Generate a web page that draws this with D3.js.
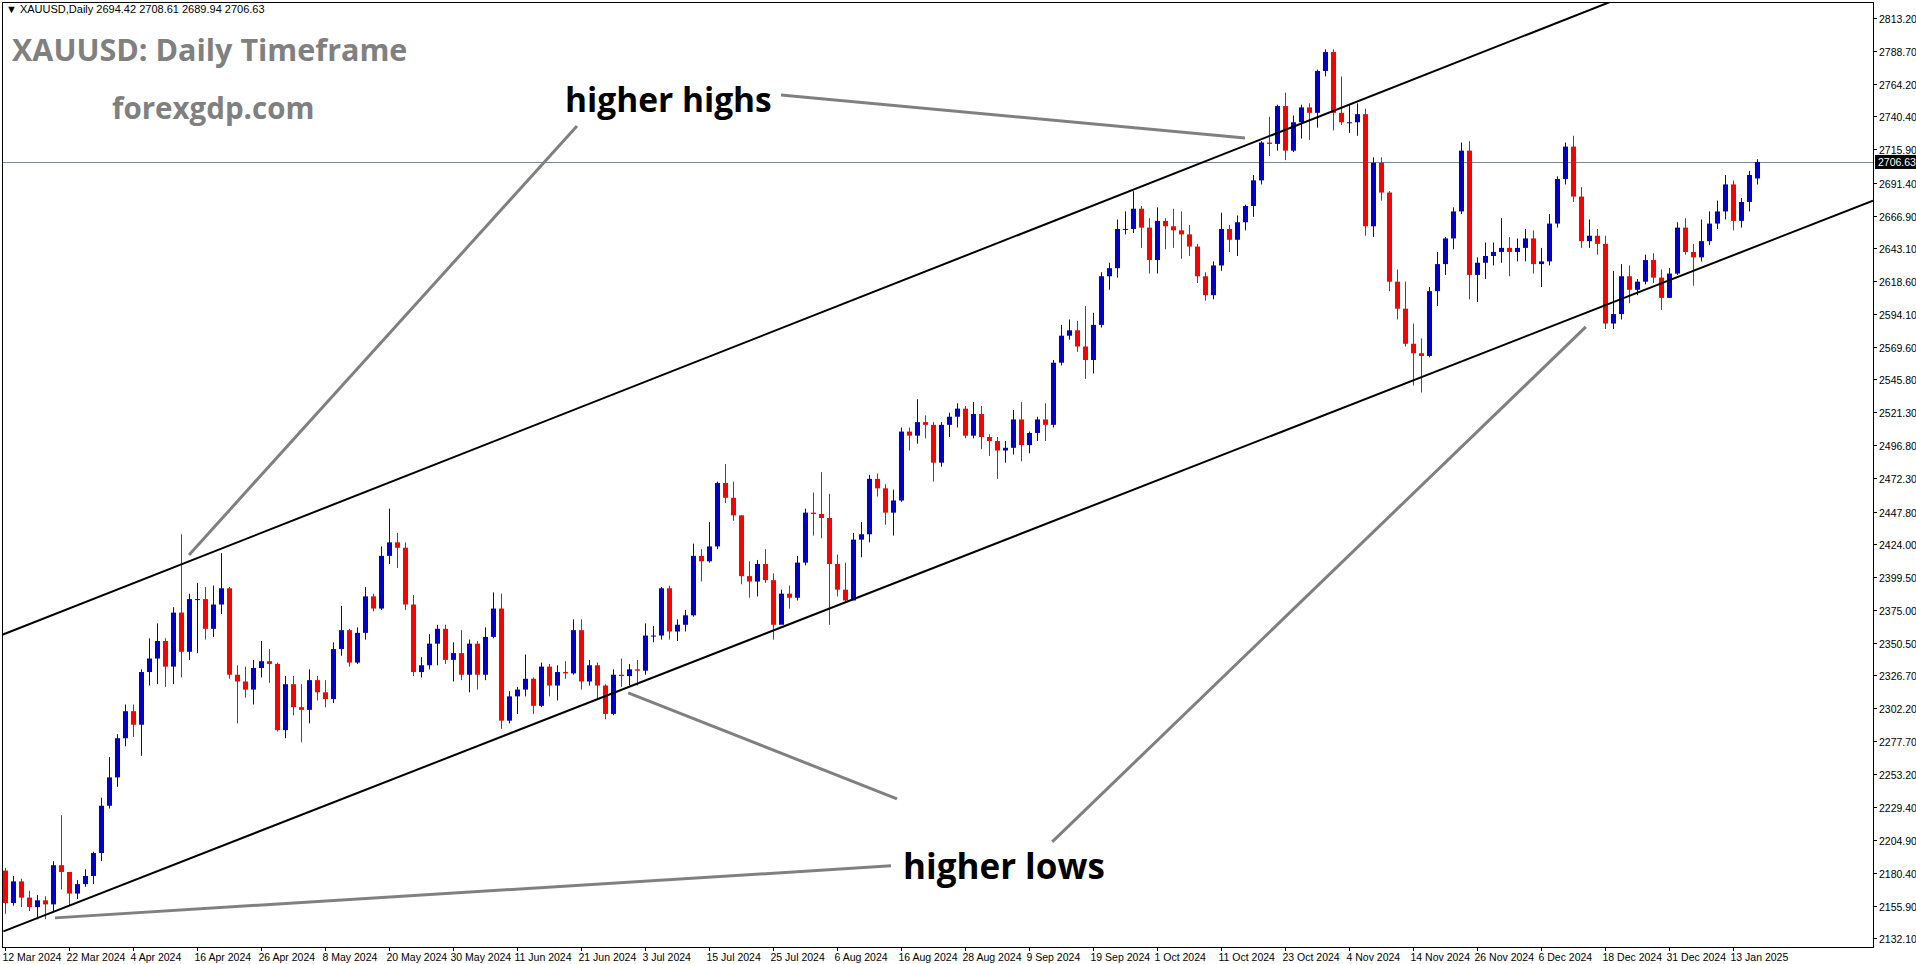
<!DOCTYPE html>
<html>
<head>
<meta charset="utf-8">
<script src="https://cdn.jsdelivr.net/npm/d3@7"></script>
<style>
  body { margin: 0; background: #fff; }
  svg { display: block; font-family: "Liberation Sans", Arial, sans-serif; }
</style>
</head>
<body>
<svg id="chart" width="1916" height="964"></svg>
<script>
// daily XAUUSD bars, 12 Mar 2024 .. 16 Jan 2025 (open = previous close)
const firstOpen = 2182;
const closes = [
  2158, 2174, 2162, 2155, 2160, 2157, 2186, 2181, 2165, 2172, 2178, 2195, 2230,
  2251, 2280, 2300, 2290, 2329, 2339, 2352, 2333, 2373, 2344, 2383, 2383, 2361, 2379, 2391, 2327, 2322, 2316, 2332, 2337, 2335, 2286,
  2320, 2303, 2301, 2323, 2314, 2309, 2346, 2360, 2336, 2358, 2385, 2376, 2415, 2425, 2421, 2379, 2329, 2334, 2350, 2361, 2338, 2343, 2327,
  2350, 2327, 2355, 2376, 2293, 2311, 2316, 2324, 2304, 2333, 2319, 2329, 2328, 2360, 2322, 2334, 2319, 2298, 2327, 2326,
  2331, 2330, 2356, 2356, 2391, 2359, 2364, 2371, 2415, 2411, 2422, 2469, 2458, 2445, 2400, 2396, 2409, 2397, 2364, 2387, 2384, 2410, 2447,
  2446, 2443, 2409, 2390, 2382, 2427, 2431, 2472, 2465, 2447, 2456, 2507, 2504, 2514, 2512, 2484, 2512, 2518, 2524, 2504, 2520, 2503,
  2500, 2493, 2495, 2516, 2497, 2506, 2516, 2512, 2558, 2578, 2582, 2570, 2560, 2586, 2622, 2628, 2657, 2657, 2672, 2658, 2634,
  2663, 2659, 2656, 2653, 2644, 2622, 2608, 2630, 2657, 2649, 2662, 2674, 2693, 2721, 2720, 2748, 2715, 2736, 2747, 2743, 2774, 2788, 2743,
  2736, 2736, 2742, 2659, 2706, 2684, 2618, 2598, 2572, 2565, 2563, 2611, 2631, 2650, 2670, 2715, 2623, 2632, 2637, 2640, 2643,
  2640, 2643, 2650, 2631, 2633, 2661, 2694, 2718, 2681, 2648, 2652, 2646, 2587, 2594, 2622, 2612, 2618, 2634, 2621, 2606, 2624,
  2658, 2640, 2636, 2648, 2661, 2670, 2690, 2663, 2677, 2697, 2706.63
];
const highs = [
  2184, 2178, 2176, 2167, 2164, 2163, 2189, 2223, 2181, 2175, 2183, 2196, 2236,
  2266, 2283, 2305, 2305, 2331, 2354, 2365, 2354, 2377, 2431, 2387, 2395, 2392, 2393, 2417, 2392, 2334, 2333, 2338, 2352, 2346, 2336,
  2326, 2326, 2320, 2331, 2326, 2323, 2351, 2378, 2361, 2362, 2392, 2387, 2422, 2450, 2432, 2425, 2386, 2340, 2357, 2364, 2364, 2351, 2360,
  2353, 2352, 2362, 2388, 2387, 2315, 2318, 2342, 2325, 2336, 2335, 2334, 2337, 2368, 2368, 2338, 2336, 2320, 2331, 2339,
  2335, 2338, 2365, 2363, 2392, 2393, 2368, 2375, 2424, 2420, 2440, 2470, 2483, 2470, 2445, 2411, 2412, 2420, 2402, 2390, 2393, 2415, 2450,
  2462, 2477, 2461, 2416, 2410, 2432, 2440, 2475, 2476, 2468, 2464, 2510, 2510, 2531, 2519, 2514, 2514, 2521, 2528, 2526, 2529, 2526,
  2505, 2503, 2500, 2523, 2529, 2507, 2518, 2528, 2560, 2586, 2590, 2589, 2600, 2595, 2625, 2632, 2664, 2670, 2685, 2674, 2665,
  2673, 2665, 2672, 2670, 2660, 2646, 2625, 2633, 2669, 2660, 2667, 2675, 2697, 2722, 2740, 2749, 2758, 2741, 2749, 2750, 2775, 2790, 2790,
  2770, 2749, 2750, 2746, 2710, 2710, 2685, 2627, 2618, 2587, 2576, 2614, 2640, 2651, 2673, 2721, 2722, 2636, 2647, 2647, 2665,
  2651, 2650, 2657, 2656, 2643, 2668, 2696, 2721, 2726, 2688, 2664, 2657, 2652, 2626, 2631, 2630, 2620, 2638, 2639, 2627, 2628,
  2662, 2665, 2646, 2664, 2670, 2678, 2697, 2693, 2680, 2700, 2708.61
];
const lows = [
  2150, 2156, 2155, 2152, 2146, 2146, 2151, 2168, 2156, 2161, 2170, 2172, 2189,
  2228, 2244, 2274, 2281, 2267, 2319, 2320, 2318, 2320, 2325, 2338, 2343, 2353, 2355, 2372, 2324, 2291, 2310, 2305, 2325, 2321, 2285,
  2280, 2297, 2277, 2291, 2308, 2303, 2306, 2341, 2333, 2335, 2353, 2374, 2375, 2409, 2406, 2375, 2326, 2325, 2331, 2334, 2335, 2322, 2323,
  2314, 2316, 2323, 2354, 2287, 2291, 2298, 2311, 2298, 2303, 2311, 2308, 2324, 2327, 2316, 2319, 2309, 2294, 2297, 2318,
  2319, 2319, 2327, 2351, 2353, 2353, 2352, 2359, 2370, 2396, 2410, 2420, 2454, 2441, 2394, 2384, 2385, 2395, 2353, 2366, 2376, 2382, 2408,
  2430, 2428, 2364, 2385, 2380, 2383, 2414, 2425, 2459, 2438, 2430, 2455, 2493, 2498, 2502, 2470, 2481, 2503, 2510, 2502, 2502, 2494,
  2489, 2472, 2484, 2490, 2485, 2491, 2500, 2500, 2510, 2556, 2575, 2566, 2546, 2550, 2584, 2612, 2621, 2653, 2654, 2643, 2624,
  2624, 2642, 2643, 2635, 2637, 2617, 2604, 2605, 2626, 2640, 2637, 2656, 2666, 2690, 2711, 2715, 2708, 2714, 2724, 2723, 2732, 2770, 2730,
  2734, 2728, 2726, 2652, 2651, 2678, 2611, 2590, 2570, 2541, 2536, 2562, 2600, 2623, 2642, 2668, 2605, 2603, 2620, 2630, 2632,
  2622, 2633, 2633, 2624, 2614, 2630, 2658, 2690, 2677, 2643, 2643, 2638, 2583, 2583, 2590, 2602, 2608, 2616, 2617, 2597, 2606,
  2623, 2638, 2615, 2633, 2645, 2657, 2664, 2656, 2658, 2670, 2689.94
];
const lastOpen = 2694.42;

// one date label every 8 bars
const dateLabels = [
  "12 Mar 2024", "22 Mar 2024", "4 Apr 2024", "16 Apr 2024", "26 Apr 2024", "8 May 2024", "20 May 2024",
  "30 May 2024", "11 Jun 2024", "21 Jun 2024", "3 Jul 2024", "15 Jul 2024", "25 Jul 2024", "6 Aug 2024",
  "16 Aug 2024", "28 Aug 2024", "9 Sep 2024", "19 Sep 2024", "1 Oct 2024", "11 Oct 2024", "23 Oct 2024",
  "4 Nov 2024", "14 Nov 2024", "26 Nov 2024", "6 Dec 2024", "18 Dec 2024", "31 Dec 2024", "13 Jan 2025"
];
const priceTicks = [
  2813.20, 2788.70, 2764.20, 2740.40, 2715.90, 2691.40, 2666.90, 2643.10, 2618.60, 2594.10, 2569.60,
  2545.80, 2521.30, 2496.80, 2472.30, 2447.80, 2424.00, 2399.50, 2375.00, 2350.50, 2326.70, 2302.20,
  2277.70, 2253.20, 2229.40, 2204.90, 2180.40, 2155.90, 2132.10
];
const currentPrice = 2706.63;

// channel lines [bar, price] and annotation pointers
const channelLines = [
  [[-1, 2355], [200.6, 2825]],
  [[-0.2, 2137], [233.5, 2678]]
];
const pointers = [
  [[71.5, 2733.3], [23, 2415.7]],
  [[97, 2756.2], [155, 2724.4]],
  [[111.5, 2235.1], [77.9, 2313.6]],
  [[110.75, 2185.5], [6.25, 2147.0]],
  [[130.9, 2203.3], [197.6, 2584.5]]
];

const plot = { left: 2, top: 2, right: 1873, bottom: 947 };
const svg = d3.select("#chart");

const x = d3.scaleLinear().domain([0, 1]).range([5, 13]);
const y = d3.scaleLinear().domain([2813.2, 2132.1]).range([18, 938]);

const bars = closes.map((c, i) => ({
  i,
  o: i === 0 ? firstOpen : (i === closes.length - 1 ? lastOpen : closes[i - 1]),
  h: highs[i],
  l: lows[i],
  c
}));

svg.append("defs").append("clipPath").attr("id", "clip")
  .append("rect")
  .attr("x", plot.left).attr("y", plot.top)
  .attr("width", plot.right - plot.left).attr("height", plot.bottom - plot.top);

const g = svg.append("g").attr("clip-path", "url(#clip)");

// current price line
g.append("line")
  .attr("x1", plot.left).attr("x2", plot.right)
  .attr("y1", Math.round(y(currentPrice)) + 0.5).attr("y2", Math.round(y(currentPrice)) + 0.5)
  .attr("stroke", "#778899").attr("stroke-width", 1);

// candles
const candle = g.selectAll(".candle").data(bars).enter().append("g");
candle.append("line")
  .attr("x1", d => Math.round(x(d.i)) + 0.5).attr("x2", d => Math.round(x(d.i)) + 0.5)
  .attr("y1", d => y(d.h)).attr("y2", d => y(d.l))
  .attr("stroke", d => d.c >= d.o ? "#0000cc" : "#ff0000").attr("stroke-width", 1);
candle.append("rect")
  .attr("x", d => Math.round(x(d.i)) - 2)
  .attr("y", d => y(Math.max(d.o, d.c)))
  .attr("width", 5)
  .attr("height", d => Math.max(1, Math.abs(y(d.o) - y(d.c))))
  .attr("fill", d => d.c >= d.o ? "#0000cc" : "#ff0000");

// channel
g.selectAll(".channel").data(channelLines).enter().append("line")
  .attr("x1", d => x(d[0][0])).attr("y1", d => y(d[0][1]))
  .attr("x2", d => x(d[1][0])).attr("y2", d => y(d[1][1]))
  .attr("stroke", "#000").attr("stroke-width", 2);

// pointer lines
g.selectAll(".pointer").data(pointers).enter().append("line")
  .attr("x1", d => x(d[0][0])).attr("y1", d => y(d[0][1]))
  .attr("x2", d => x(d[1][0])).attr("y2", d => y(d[1][1]))
  .attr("stroke", "#808080").attr("stroke-width", 3);

// frame
svg.append("rect")
  .attr("x", plot.left + 0.5).attr("y", plot.top + 0.5)
  .attr("width", plot.right - plot.left).attr("height", plot.bottom - plot.top)
  .attr("fill", "none").attr("stroke", "#000");

// price axis
const pAxis = svg.append("g");
priceTicks.forEach(p => {
  const yy = Math.round(y(p)) + 0.5;
  pAxis.append("line").attr("x1", plot.right).attr("x2", plot.right + 4)
    .attr("y1", yy).attr("y2", yy).attr("stroke", "#000");
  pAxis.append("text").attr("x", plot.right + 6).attr("y", yy + 4)
    .attr("font-size", 10.5).attr("fill", "#000").text(p.toFixed(2));
});
const cy = y(currentPrice);
pAxis.append("rect").attr("x", plot.right + 2).attr("y", cy - 7)
  .attr("width", 42).attr("height", 14).attr("fill", "#000");
pAxis.append("text").attr("x", plot.right + 5).attr("y", cy + 4)
  .attr("font-size", 10.5).attr("fill", "#fff").text(currentPrice.toFixed(2));

// date axis
const dAxis = svg.append("g");
dateLabels.forEach((lab, k) => {
  const xx = Math.round(x(k * 8)) + 0.5;
  dAxis.append("line").attr("x1", xx).attr("x2", xx)
    .attr("y1", plot.bottom).attr("y2", plot.bottom + 4).attr("stroke", "#000");
  dAxis.append("text").attr("x", xx - 3).attr("y", plot.bottom + 14)
    .attr("font-size", 10.5).attr("fill", "#000").text(lab);
});

// header and titles
svg.append("text").attr("x", 6).attr("y", 13).attr("font-size", 11).attr("fill", "#000")
  .text("\u25BC XAUUSD,Daily  2694.42 2708.61 2689.94 2706.63");
svg.append("text").attr("x", 12).attr("y", 61)
  .attr("font-family", "'Open Sans', sans-serif").attr("font-weight", "bold")
  .attr("font-size", 30.5).attr("fill", "#808080").text("XAUUSD: Daily Timeframe");
svg.append("text").attr("x", 112).attr("y", 119)
  .attr("font-family", "'Open Sans', sans-serif").attr("font-weight", "bold")
  .attr("font-size", 29.5).attr("fill", "#808080").text("forexgdp.com");
svg.append("text").attr("x", 565).attr("y", 112)
  .attr("font-family", "'Open Sans', sans-serif").attr("font-weight", "bold")
  .attr("font-size", 33.5).attr("fill", "#000").text("higher highs");
svg.append("text").attr("x", 903).attr("y", 879)
  .attr("font-family", "'Open Sans', sans-serif").attr("font-weight", "bold")
  .attr("font-size", 35).attr("fill", "#000").text("higher lows");
</script>
</body>
</html>
